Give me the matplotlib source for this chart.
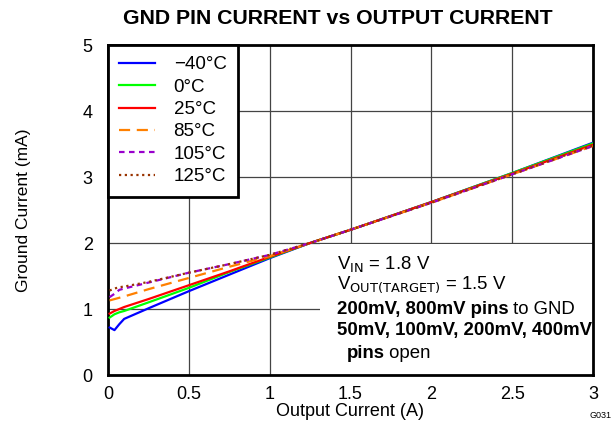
import numpy as np
import matplotlib
matplotlib.use("Agg")
import matplotlib.pyplot as plt
from matplotlib.patches import Rectangle

plt.rcParams["font.family"] = ["Liberation Sans", "DejaVu Sans"]

# --- data ---
iout = [0.01, 0.04, 0.07, 0.1, 0.25, 0.5, 0.75, 1.0, 1.25, 1.5, 2.0, 2.5, 3.0]
ignd_m40 = [0.72, 0.68, 0.77, 0.85, 1.01, 1.27, 1.52, 1.77, 2.0, 2.2, 2.62, 3.06, 3.52]
ignd_0 = [0.87, 0.92, 0.95, 0.97, 1.10, 1.32, 1.56, 1.78, 2.0, 2.2, 2.62, 3.06, 3.51]
ignd_25 = [0.93, 0.97, 1.00, 1.03, 1.15, 1.36, 1.57, 1.79, 2.0, 2.2, 2.62, 3.05, 3.49]
ignd_85 = [1.13, 1.15, 1.17, 1.19, 1.30, 1.47, 1.64, 1.80, 2.0, 2.2, 2.61, 3.04, 3.47]
ignd_105 = [1.18, 1.23, 1.29, 1.31, 1.40, 1.55, 1.68, 1.82, 2.0, 2.2, 2.61, 3.04, 3.47]
ignd_125 = [1.28, 1.31, 1.33, 1.34, 1.41, 1.55, 1.68, 1.82, 2.0, 2.2, 2.61, 3.04, 3.48]

labels = ["\u221240\u00b0C", "0\u00b0C", "25\u00b0C", "85\u00b0C", "105\u00b0C", "125\u00b0C"]
xticks = [0, 0.5, 1, 1.5, 2, 2.5, 3]
xticklabels = ["0", "0.5", "1", "1.5", "2", "2.5", "3"]
yticks = [0, 1, 2, 3, 4, 5]

series = [ignd_m40, ignd_0, ignd_25, ignd_85, ignd_105, ignd_125]
styles = [
    dict(color="#0000ff", ls="-"),
    dict(color="#00ff00", ls="-"),
    dict(color="#ff0000", ls="-"),
    dict(color="#ff8000", ls=(0, (5, 3))),
    dict(color="#9900cc", ls=(0, (2.5, 2))),
    dict(color="#993300", ls=(0, (1, 1.6))),
]

fig = plt.figure(figsize=(6.16, 4.30), dpi=100)
ax = fig.add_axes([108 / 616, 1 - 375 / 430, (593 - 108) / 616, (375 - 45) / 430])

for y, lab, st in zip(series, labels, styles):
    ax.plot(iout, y, lw=1.6, label=lab, zorder=3, **st)

ax.set_xlim(0, 3)
ax.set_ylim(0, 5)
ax.set_xticks(xticks)
ax.set_xticklabels(xticklabels)
ax.set_yticks(yticks)
ax.tick_params(length=0, labelsize=13)
ax.tick_params(axis="x", pad=8)
ax.tick_params(axis="y", pad=11)
ax.grid(True, color="#444444", lw=0.9)
for s in ax.spines.values():
    s.set_linewidth(2)

# white box behind the conditions text
ax.add_patch(Rectangle((1.31, 0), 1.69, 1.985, facecolor="white", edgecolor="none", zorder=1.8))

ax.set_xlabel("Output Current (A)", fontsize=13, labelpad=0)
ax.set_ylabel("Ground Current (mA)", fontsize=12.5, labelpad=37)

leg = ax.legend(loc="upper left", bbox_to_anchor=(0, 1), borderaxespad=0,
                fancybox=False, framealpha=1, edgecolor="black", fontsize=13.5,
                handlelength=1.9, labelspacing=0.28, borderpad=0.6, handletextpad=1.0)
leg.get_frame().set_linewidth(2)
leg.set_zorder(5)

fig.text(338 / 616, 1 - 18 / 430, "GND PIN CURRENT vs OUTPUT CURRENT",
         ha="center", va="center", fontsize=15.3, fontweight="bold")

tx = 1.415
fs = 13.4
ax.text(tx, 1.67, r"V$_{\mathrm{IN}}$ = 1.8 V", fontsize=fs, va="center", zorder=4)
ax.text(tx, 1.36, r"V$_{\mathrm{OUT(TARGET)}}$ = 1.5 V", fontsize=fs, va="center", zorder=4)
t3 = ax.text(tx, 1.0, "200mV, 800mV pins", fontsize=fs, fontweight="bold", va="center", zorder=4)
ax.annotate(" to GND", xycoords=t3, xy=(1, 0.5), va="center", fontsize=fs, zorder=4)
ax.text(tx, 0.68, "50mV, 100mV, 200mV, 400mV", fontsize=fs, fontweight="bold", va="center", zorder=4)
t5 = ax.text(tx + 0.06, 0.33, "pins", fontsize=fs, fontweight="bold", va="center", zorder=4)
ax.annotate(" open", xycoords=t5, xy=(1, 0.5), va="center", fontsize=fs, zorder=4)

fig.text(600 / 616, 1 - 416 / 430, "G031", ha="center", va="center", fontsize=6.5)

fig.savefig("out.png", dpi=100)
